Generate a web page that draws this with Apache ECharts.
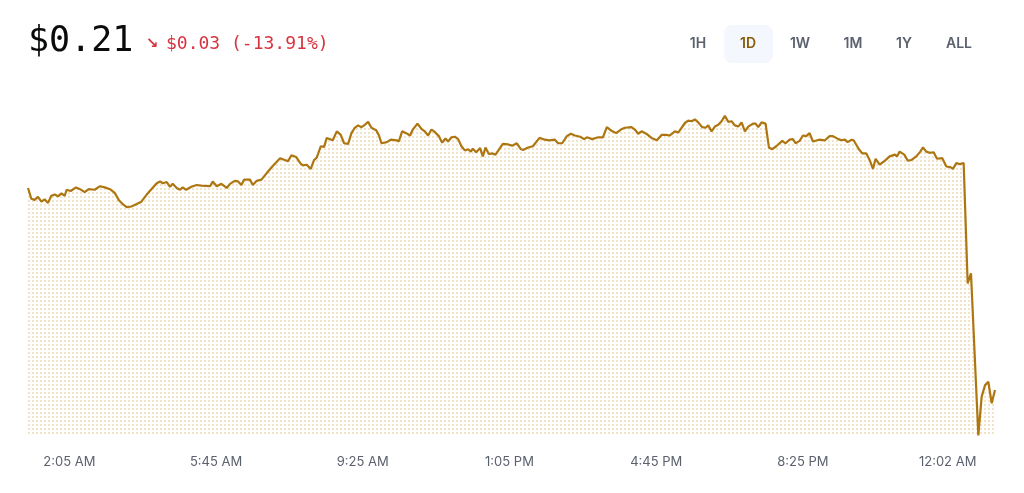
<!DOCTYPE html>
<html>
<head>
<meta charset="utf-8">
<script src="https://cdn.jsdelivr.net/npm/echarts@6/dist/echarts.min.js"></script>
<style>
  html, body { margin: 0; padding: 0; background: #ffffff; }
  #chart { width: 1024px; height: 493px; }
</style>
</head>
<body>
<div id="chart"></div>
<script>
// ---- Data (minutes since midnight of day 1, price in USD) ----
const times = [
  63,68,73,78,83,88,93,98,103,108,
  113,118,121,127,135,141,148,154,163,171,
  178,186,193,199,205,211,218,226,233,241,
  248,256,261,265,271,276,280,286,291,295,
  300,308,316,323,336,340,346,353,361,366,
  373,378,383,387,396,400,406,413,421,430,
  441,448,453,458,465,471,
  475,481,487,492,
  496,502,507,511,520,526,532,537,543,548,
  553,558,563,568,573,578,585,589,593,601,
  607,616,619,624,630,636,640,647,653,658,
  663,668,673,679,684,689,693,698,703,708,
  713,718,723,727,730,735,741,745,749,754,
  759,764,775,783,789,796,802,806,813,820,
  830,838,845,853,858,864,871,877,883,891,
  897,901,909,918,925,931,938,945,952,
  958,
  968,973,978,983,990,998,1006,1013,1020,1025,
  1033,1038,1048,1053,1058,1063,1068,1074,1079,1083,
  1088,1093,1098,1103,1108,1113,1118,1123,1128,1133,
  1138,1143,1150,1154,1158,1163,1169,1174,1179,1185,
  1194,1199,1205,1210,1214,1220,1225,1230,1235,1240,
  1249,1258,1265,1270,1278,1283,1288,1292,1298,1301,
  1309,1314,1320,1325,1330,1334,1340,1348,1355,1363,
  1366,1370,1377,1382,1388,1395,1401,1405,1410,1415,
  1421,1426,1434,1440,1446,1450,1455,1460,1466,1472,
  1477,1488,1493,1498,1503,1508,1513
];
const prices = [
  0.2439,0.2421,0.2419,0.2424,0.2416,0.2420,0.2414,0.2426,0.2428,0.2425,
  0.2430,0.2426,0.2436,0.2434,0.2440,0.2437,0.2432,0.2437,0.2436,0.2442,
  0.2440,0.2437,0.2431,0.2419,0.2412,0.2407,0.2408,0.2412,0.2416,0.2428,
  0.2437,0.2447,0.2450,0.2447,0.2449,0.2441,0.2446,0.2439,0.2436,0.2440,
  0.2436,0.2441,0.2444,0.2443,0.2442,0.2450,0.2442,0.2446,0.2439,0.2446,
  0.2451,0.2450,0.2444,0.2453,0.2453,0.2444,0.2451,0.2453,0.2464,0.2476,
  0.2489,0.2486,0.2484,0.2494,0.2491,0.2481,
  0.2477,0.2478,0.2471,0.2486,
  0.2490,0.2509,0.2508,0.2523,0.2519,0.2534,0.2528,0.2514,0.2513,0.2531,
  0.2540,0.2544,0.2541,0.2545,0.2550,0.2540,0.2536,0.2528,0.2514,0.2516,
  0.2520,0.2519,0.2517,0.2534,0.2531,0.2527,0.2537,0.2547,0.2538,0.2534,
  0.2527,0.2537,0.2533,0.2526,0.2515,0.2522,0.2517,0.2524,0.2525,0.2521,
  0.2509,0.2502,0.2504,0.2500,0.2505,0.2499,0.2506,0.2492,0.2507,0.2496,
  0.2497,0.2495,0.2513,0.2512,0.2510,0.2514,0.2504,0.2503,0.2507,0.2509,
  0.2523,0.2520,0.2519,0.2520,0.2514,0.2514,0.2526,0.2530,0.2527,0.2525,
  0.2521,0.2524,0.2521,0.2524,0.2524,0.2541,0.2535,0.2531,0.2537,
  0.2540,
  0.2541,0.2537,0.2530,0.2534,0.2530,0.2523,0.2519,0.2528,0.2528,0.2527,
  0.2534,0.2532,0.2548,0.2552,0.2551,0.2554,0.2549,0.2541,0.2540,0.2544,
  0.2534,0.2542,0.2545,0.2551,0.2560,0.2550,0.2551,0.2544,0.2542,0.2549,
  0.2534,0.2542,0.2547,0.2547,0.2541,0.2549,0.2547,0.2507,0.2504,0.2509,
  0.2518,0.2514,0.2520,0.2521,0.2514,0.2518,0.2527,0.2526,0.2531,0.2517,
  0.2520,0.2519,0.2526,0.2526,0.2521,0.2519,0.2520,0.2516,0.2520,0.2519,
  0.2504,0.2497,0.2497,0.2486,0.2471,0.2488,0.2478,0.2485,0.2492,0.2495,
  0.2492,0.2500,0.2495,0.2485,0.2486,0.2492,0.2500,0.2507,0.2500,0.2498,
  0.2499,0.2488,0.2489,0.2475,0.2474,0.2471,0.2481,0.2479,0.2481,0.2279,
  0.2296,0.2024,0.2089,0.2108,0.2114,0.2078,0.2100
];
const tickMinutes = [125, 345, 565, 785, 1005, 1225, 1442];
const tickLabels = ['2:05 AM', '5:45 AM', '9:25 AM', '1:05 PM', '4:45 PM', '8:25 PM', '12:02 AM'];
const rangeButtons = ['1H', '1D', '1W', '1M', '1Y', 'ALL'];
const priceText = '$0.21';
const arrowText = '\u2198';
const changeText = '$0.03 (-13.91%)';

// ---- Build ----
const seriesData = [];
const n = Math.min(times.length, prices.length);
for (let i = 0; i < n; i++) seriesData.push([times[i], prices[i]]);

const dot = document.createElement('canvas');
dot.width = 4; dot.height = 4;
const dctx = dot.getContext('2d');
dctx.fillStyle = '#f3e4c8';
dctx.fillRect(0, 0, 2, 2);

const btnX = [698, 748, 800, 853, 904, 959];
const graphics = [
  { type: 'text', left: 28, top: 24, style: { text: priceText, font: '400 35px "DejaVu Sans Mono", monospace', fill: '#0a0b0d' } },
  { type: 'text', x: 152, y: 44, style: { text: arrowText, font: '700 15px "DejaVu Sans", sans-serif', fill: '#d6343f', align: 'center', verticalAlign: 'middle' } },
  { type: 'text', left: 166, top: 35, style: { text: changeText, font: '400 18px "DejaVu Sans Mono", monospace', fill: '#d6343f' } },
  { type: 'rect', shape: { x: 724, y: 25, width: 49, height: 38, r: 8 }, style: { fill: '#f4f7fd' } }
];
rangeButtons.forEach((b, i) => {
  graphics.push({
    type: 'text', x: btnX[i], y: 44,
    style: { text: b, font: '600 14px Inter, sans-serif', fill: b === '1D' ? '#8a5a08' : '#5b616e', align: 'center', verticalAlign: 'middle' }
  });
});

const chart = echarts.init(document.getElementById('chart'));
chart.setOption({
  animation: false,
  backgroundColor: '#ffffff',
  graphic: graphics,
  grid: { left: 28, right: 29, top: 92, bottom: 57 },
  xAxis: {
    type: 'value', min: 63, max: 1513,
    axisLine: { show: false }, axisTick: { show: false }, splitLine: { show: false },
    axisLabel: {
      customValues: tickMinutes,
      formatter: v => { const k = tickMinutes.indexOf(v); return k >= 0 ? tickLabels[k] : ''; },
      color: '#5b616e', fontFamily: 'Inter, sans-serif', fontSize: 13, margin: 20
    }
  },
  yAxis: {
    type: 'value', min: 0.2023, max: 0.26, show: false,
    splitLine: { show: false }
  },
  series: [{
    type: 'line', data: seriesData, showSymbol: false, symbol: 'none',
    lineStyle: { color: '#ad7611', width: 2.2 },
    areaStyle: { color: { image: dot, repeat: 'repeat' }, opacity: 1 },
    silent: true
  }]
});
</script>
</body>
</html>
